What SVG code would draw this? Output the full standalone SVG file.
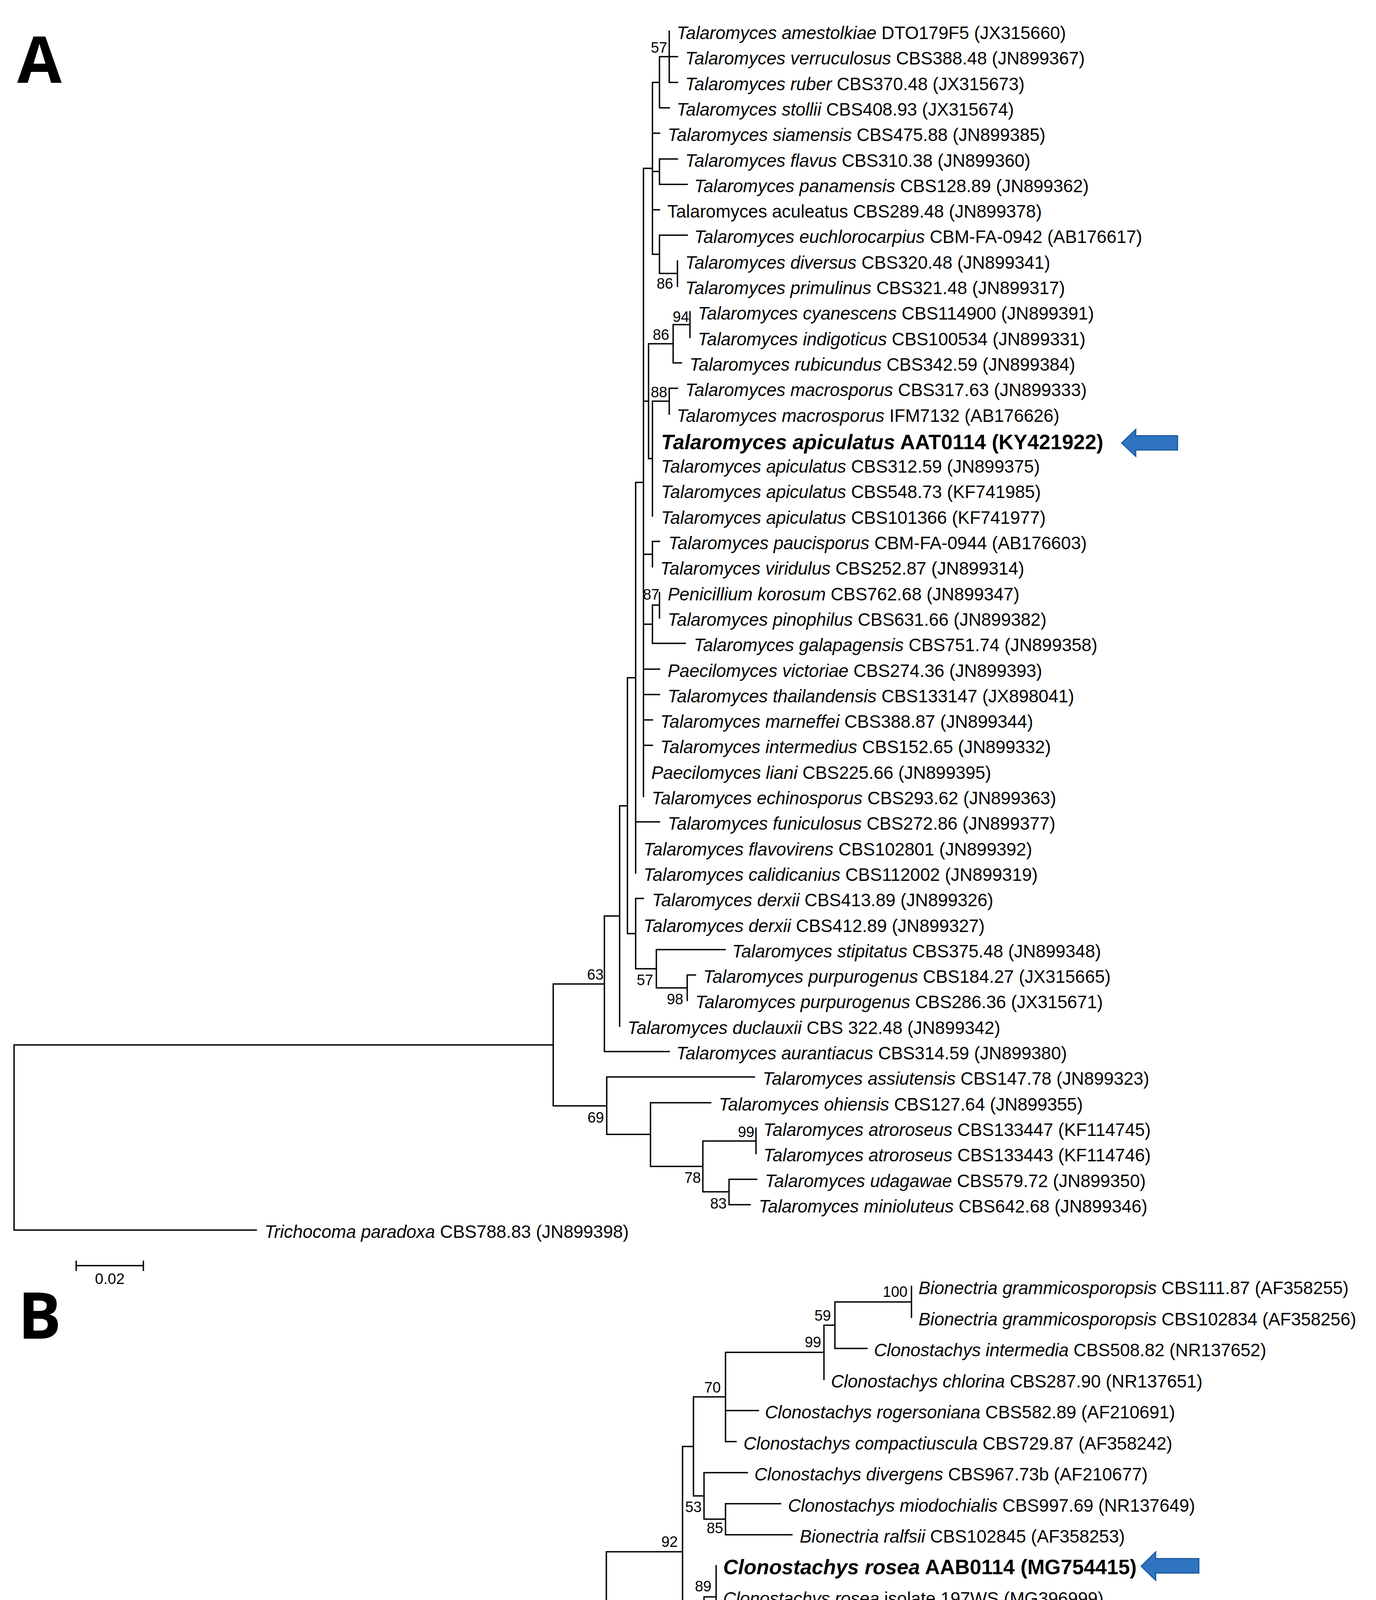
<svg xmlns="http://www.w3.org/2000/svg" width="3522" height="5092" viewBox="0 0 3522 5092">
<style>
.lbl{font-family:"Liberation Sans",Arial,Helvetica,sans-serif;font-size:45.5px;fill:#000}
.it{font-style:italic}
.bold{font-weight:bold;font-size:53px}
.bs{font-family:"Liberation Sans",Arial,Helvetica,sans-serif;font-size:38px;fill:#000;text-anchor:end}
.sc{font-family:"Liberation Sans",Arial,Helvetica,sans-serif;font-size:39px;fill:#000;text-anchor:middle}
.br{fill:none;stroke:#000;stroke-width:3.5;stroke-linecap:square}
.panel{font-family:"Open Sans","Liberation Sans",sans-serif;font-weight:700;font-size:165px;fill:#000}
.arrow{fill:#2e74c0;stroke:#1f5a9e;stroke-width:3;stroke-linejoin:miter}
</style>
<rect width="3522" height="5092" fill="#fff"/>

<g id="panel-labels">
<text class="panel" x="44" y="212">A</text>
<text class="panel" x="46" y="3427">B</text>
</g>

<g id="connectors">
<path id="tree-a" class="br" d="M1713,80V211M1713,145H1734M1713,211H1734
M1688,145V276M1688,145H1713M1688,276H1713
M1670,211V651M1670,211H1688M1670,341H1688M1670,439H1688M1670,537H1688M1670,651H1688
M1688,407V472M1688,407H1734M1688,472H1759
M1688,602V700M1688,602H1759M1688,700H1734
M1734,668V733
M1647,431V2039M1647,431H1670M1647,1027H1660M1647,1419H1670M1647,1598H1670M1647,1713H1688M1647,1778H1688M1647,1843H1670M1647,1908H1670
M1660,880V1174M1660,880H1723M1660,1174H1670
M1723,831V929M1723,831H1766M1723,929H1744
M1766,798V864
M1670,1027V1321M1670,1027H1713
M1713,994V1060M1713,994H1734
M1670,1386V1451M1670,1386H1688
M1670,1549V1647M1670,1549H1688M1670,1647H1754
M1688,1517V1582
M1627,1235V2235M1627,1235H1647M1627,2104H1688
M1606,1735V2390M1606,1735H1627M1606,2390H1627
M1627,2300V2480M1627,2300H1647M1627,2480H1680
M1680,2431V2529M1680,2431H1856M1680,2529H1759
M1759,2496V2561M1759,2496H1780
M1586,2063V2627M1586,2063H1606
M1547,2345V2692M1547,2345H1586M1547,2692H1713
M1416,2519V2831M1416,2519H1547M1416,2831H1553
M1553,2757V2904M1553,2757H1931M1553,2904H1665
M1665,2823V2986M1665,2823H1819M1665,2986H1799
M1799,2921V3051M1799,2921H1935M1799,3051H1866
M1935,2888V2953
M1866,3019V3084M1866,3019H1937M1866,3084H1920
M36,2675V3149M36,2675H1416M36,3149H656"/>
<path id="tree-b" class="br" d="M2333,3293V3372.5
M2137,3333V3452M2137,3333H2333M2137,3452H2219
M2109,3392.5V3531.5M2109,3392.5H2137
M1857,3462V3690.5M1857,3462H2109M1857,3611H1941M1857,3690.5H1884
M1775,3576V3829.5M1775,3576H1857M1775,3829.5H1802
M1802,3770V3889M1802,3770H1913M1802,3889H1857
M1857,3849.5V3929M1857,3849.5H1998M1857,3929H2027
M1747,3703V4242M1747,3703H1775M1747,4242H1802
M1802,4088V4396M1802,4088H1833M1802,4247H1860M1802,4396H1833
M1833,4008.5V4167.5
M1833,4326.5V4465.5M1833,4326.5H1888M1833,4465.5H1860
M1860,4406V4525M1860,4525H1884.5
M1884.5,4485.5V4565M1884.5,4565H1914
M1552,3972.5V4644.5M1552,3972.5H1747M1552,4644.5H2117
M1251,4308.5V4764M1251,4308.5H1552M1251,4764H1718
M1718,4724V4803.5M1718,4724H1806M1718,4803.5H2029
M67,4536V4883M67,4536H1251M67,4883H557"/>
</g>

<g id="scale-a">
<path class="br" d="M195,3240H367M195,3229V3252M367,3229V3252"/>
<text class="sc" x="281" y="3287">0.02</text>
</g>
<g id="scale-b">
<path class="br" d="M239,4994H438M239,4979V5010M438,4979V5010"/>
<text class="sc" x="336" y="5044">0.02</text>
</g>

<g id="bootstrap-a">
<text class="bs" x="1708" y="135">57</text>
<text class="bs" x="1723" y="739">86</text>
<text class="bs" x="1764" y="824">94</text>
<text class="bs" x="1713" y="870">86</text>
<text class="bs" x="1708" y="1017">88</text>
<text class="bs" x="1688" y="1535">87</text>
<text class="bs" x="1672" y="2522">57</text>
<text class="bs" x="1749" y="2571">98</text>
<text class="bs" x="1545" y="2508">63</text>
<text class="bs" x="1546" y="2874">69</text>
<text class="bs" x="1931" y="2911">99</text>
<text class="bs" x="1794" y="3028">78</text>
<text class="bs" x="1860" y="3094">83</text>
</g>
<g id="bootstrap-b">
<text class="bs" x="2323" y="3320">100</text>
<text class="bs" x="2127" y="3381">59</text>
<text class="bs" x="2102" y="3449">99</text>
<text class="bs" x="1845" y="3565">70</text>
<text class="bs" x="1796" y="3871">53</text>
<text class="bs" x="1851" y="3925">85</text>
<text class="bs" x="1735" y="3960">92</text>
<text class="bs" x="1821" y="4074">89</text>
<text class="bs" x="1794" y="4292">76</text>
<text class="bs" x="1853" y="4501">53</text>
<text class="bs" x="1880" y="4555">61</text>
<text class="bs" x="1533" y="4291">91</text>
<text class="bs" x="1711" y="4806">98</text>
</g>

<g id="leaves-a">
<g id="a01"><text class="lbl" x="1732" y="100"><tspan class="it">Talaromyces amestolkiae</tspan> DTO179F5 (JX315660)</text></g>
<g id="a02"><text class="lbl" x="1754" y="165.3"><tspan class="it">Talaromyces verruculosus</tspan> CBS388.48 (JN899367)</text></g>
<g id="a03"><text class="lbl" x="1754" y="230.6"><tspan class="it">Talaromyces ruber</tspan> CBS370.48 (JX315673)</text></g>
<g id="a04"><text class="lbl" x="1732" y="295.9"><tspan class="it">Talaromyces stollii</tspan> CBS408.93 (JX315674)</text></g>
<g id="a05"><text class="lbl" x="1709" y="361.2"><tspan class="it">Talaromyces siamensis</tspan> CBS475.88 (JN899385)</text></g>
<g id="a06"><text class="lbl" x="1754" y="426.5"><tspan class="it">Talaromyces flavus</tspan> CBS310.38 (JN899360)</text></g>
<g id="a07"><text class="lbl" x="1777" y="491.8"><tspan class="it">Talaromyces panamensis</tspan> CBS128.89 (JN899362)</text></g>
<g id="a08"><text class="lbl" x="1708" y="557.1">Talaromyces aculeatus CBS289.48 (JN899378)</text></g>
<g id="a09"><text class="lbl" x="1777" y="622.4"><tspan class="it">Talaromyces euchlorocarpius</tspan> CBM-FA-0942 (AB176617)</text></g>
<g id="a10"><text class="lbl" x="1754" y="687.7"><tspan class="it">Talaromyces diversus</tspan> CBS320.48 (JN899341)</text></g>
<g id="a11"><text class="lbl" x="1754" y="753"><tspan class="it">Talaromyces primulinus</tspan> CBS321.48 (JN899317)</text></g>
<g id="a12"><text class="lbl" x="1786" y="818.3"><tspan class="it">Talaromyces cyanescens</tspan> CBS114900 (JN899391)</text></g>
<g id="a13"><text class="lbl" x="1786" y="883.6"><tspan class="it">Talaromyces indigoticus</tspan> CBS100534 (JN899331)</text></g>
<g id="a14"><text class="lbl" x="1765" y="948.9"><tspan class="it">Talaromyces rubicundus</tspan> CBS342.59 (JN899384)</text></g>
<g id="a15"><text class="lbl" x="1754" y="1014.2"><tspan class="it">Talaromyces macrosporus</tspan> CBS317.63 (JN899333)</text></g>
<g id="a16"><text class="lbl" x="1732" y="1079.5"><tspan class="it">Talaromyces macrosporus</tspan> IFM7132 (AB176626)</text></g>
<g id="a17"><text class="lbl bold" x="1692" y="1150"><tspan class="it">Talaromyces apiculatus</tspan> AAT0114 (KY421922)</text>
<path class="arrow" d="M2871,1134L2907,1099.5V1115.6H3014V1152H2907V1168Z"/></g>
<g id="a18"><text class="lbl" x="1692" y="1210.1"><tspan class="it">Talaromyces apiculatus</tspan> CBS312.59 (JN899375)</text></g>
<g id="a19"><text class="lbl" x="1692" y="1275.4"><tspan class="it">Talaromyces apiculatus</tspan> CBS548.73 (KF741985)</text></g>
<g id="a20"><text class="lbl" x="1692" y="1340.7"><tspan class="it">Talaromyces apiculatus</tspan> CBS101366 (KF741977)</text></g>
<g id="a21"><text class="lbl" x="1711" y="1406"><tspan class="it">Talaromyces paucisporus</tspan> CBM-FA-0944 (AB176603)</text></g>
<g id="a22"><text class="lbl" x="1690" y="1471.3"><tspan class="it">Talaromyces viridulus</tspan> CBS252.87 (JN899314)</text></g>
<g id="a23"><text class="lbl" x="1709" y="1536.6"><tspan class="it">Penicillium korosum</tspan> CBS762.68 (JN899347)</text></g>
<g id="a24"><text class="lbl" x="1709" y="1601.9"><tspan class="it">Talaromyces pinophilus</tspan> CBS631.66 (JN899382)</text></g>
<g id="a25"><text class="lbl" x="1776" y="1667.2"><tspan class="it">Talaromyces galapagensis</tspan> CBS751.74 (JN899358)</text></g>
<g id="a26"><text class="lbl" x="1709" y="1732.5"><tspan class="it">Paecilomyces victoriae</tspan> CBS274.36 (JN899393)</text></g>
<g id="a27"><text class="lbl" x="1709" y="1797.8"><tspan class="it">Talaromyces thailandensis</tspan> CBS133147 (JX898041)</text></g>
<g id="a28"><text class="lbl" x="1690" y="1863.1"><tspan class="it">Talaromyces marneffei</tspan> CBS388.87 (JN899344)</text></g>
<g id="a29"><text class="lbl" x="1690" y="1928.4"><tspan class="it">Talaromyces intermedius</tspan> CBS152.65 (JN899332)</text></g>
<g id="a30"><text class="lbl" x="1667" y="1993.7"><tspan class="it">Paecilomyces liani</tspan> CBS225.66 (JN899395)</text></g>
<g id="a31"><text class="lbl" x="1668" y="2059"><tspan class="it">Talaromyces echinosporus</tspan> CBS293.62 (JN899363)</text></g>
<g id="a32"><text class="lbl" x="1709" y="2124.3"><tspan class="it">Talaromyces funiculosus</tspan> CBS272.86 (JN899377)</text></g>
<g id="a33"><text class="lbl" x="1647" y="2189.6"><tspan class="it">Talaromyces flavovirens</tspan> CBS102801 (JN899392)</text></g>
<g id="a34"><text class="lbl" x="1647" y="2254.9"><tspan class="it">Talaromyces calidicanius</tspan> CBS112002 (JN899319)</text></g>
<g id="a35"><text class="lbl" x="1669" y="2320.2"><tspan class="it">Talaromyces derxii</tspan> CBS413.89 (JN899326)</text></g>
<g id="a36"><text class="lbl" x="1647" y="2385.5"><tspan class="it">Talaromyces derxii</tspan> CBS412.89 (JN899327)</text></g>
<g id="a37"><text class="lbl" x="1874" y="2450.8"><tspan class="it">Talaromyces stipitatus</tspan> CBS375.48 (JN899348)</text></g>
<g id="a38"><text class="lbl" x="1800" y="2516.1"><tspan class="it">Talaromyces purpurogenus</tspan> CBS184.27 (JX315665)</text></g>
<g id="a39"><text class="lbl" x="1780" y="2581.4"><tspan class="it">Talaromyces purpurogenus</tspan> CBS286.36 (JX315671)</text></g>
<g id="a40"><text class="lbl" x="1606" y="2646.7"><tspan class="it">Talaromyces duclauxii</tspan> CBS 322.48 (JN899342)</text></g>
<g id="a41"><text class="lbl" x="1731" y="2712"><tspan class="it">Talaromyces aurantiacus</tspan> CBS314.59 (JN899380)</text></g>
<g id="a42"><text class="lbl" x="1952" y="2777.3"><tspan class="it">Talaromyces assiutensis</tspan> CBS147.78 (JN899323)</text></g>
<g id="a43"><text class="lbl" x="1840" y="2842.6"><tspan class="it">Talaromyces ohiensis</tspan> CBS127.64 (JN899355)</text></g>
<g id="a44"><text class="lbl" x="1954" y="2907.9"><tspan class="it">Talaromyces atroroseus</tspan> CBS133447 (KF114745)</text></g>
<g id="a45"><text class="lbl" x="1954" y="2973.2"><tspan class="it">Talaromyces atroroseus</tspan> CBS133443 (KF114746)</text></g>
<g id="a46"><text class="lbl" x="1958" y="3038.5"><tspan class="it">Talaromyces udagawae</tspan> CBS579.72 (JN899350)</text></g>
<g id="a47"><text class="lbl" x="1942" y="3103.8"><tspan class="it">Talaromyces minioluteus</tspan> CBS642.68 (JN899346)</text></g>
<g id="a48"><text class="lbl" x="677" y="3169.1"><tspan class="it">Trichocoma paradoxa</tspan> CBS788.83 (JN899398)</text></g>
</g>

<g id="leaves-b">
<g id="b01"><text class="lbl" x="2351" y="3313"><tspan class="it">Bionectria grammicosporopsis</tspan> CBS111.87 (AF358255)</text></g>
<g id="b02"><text class="lbl" x="2351" y="3392.5"><tspan class="it">Bionectria grammicosporopsis</tspan> CBS102834 (AF358256)</text></g>
<g id="b03"><text class="lbl" x="2237" y="3472"><tspan class="it">Clonostachys intermedia</tspan> CBS508.82 (NR137652)</text></g>
<g id="b04"><text class="lbl" x="2127" y="3551.5"><tspan class="it">Clonostachys chlorina</tspan> CBS287.90 (NR137651)</text></g>
<g id="b05"><text class="lbl" x="1958" y="3631"><tspan class="it">Clonostachys rogersoniana</tspan> CBS582.89 (AF210691)</text></g>
<g id="b06"><text class="lbl" x="1903" y="3710.5"><tspan class="it">Clonostachys compactiuscula</tspan> CBS729.87 (AF358242)</text></g>
<g id="b07"><text class="lbl" x="1931" y="3790"><tspan class="it">Clonostachys divergens</tspan> CBS967.73b (AF210677)</text></g>
<g id="b08"><text class="lbl" x="2017" y="3869.5"><tspan class="it">Clonostachys miodochialis</tspan> CBS997.69 (NR137649)</text></g>
<g id="b09"><text class="lbl" x="2047" y="3949"><tspan class="it">Bionectria ralfsii</tspan> CBS102845 (AF358253)</text></g>
<g id="b10"><text class="lbl bold" x="1851" y="4030"><tspan class="it">Clonostachys rosea</tspan> AAB0114 (MG754415)</text>
<path class="arrow" d="M2921,4009.5L2958,3973V3990H3068.5V4027H2958V4045.5Z"/></g>
<g id="b11"><text class="lbl" x="1851" y="4108"><tspan class="it">Clonostachys rosea</tspan> isolate 197WS (MG396999)</text></g>
<g id="b12"><text class="lbl" x="1851" y="4187.5"><tspan class="it">Clonostachys rosea</tspan> strain NF5 (KJ588220)</text></g>
<g id="b13"><text class="lbl" x="1879" y="4267"><tspan class="it">Bionectria pseudostriata</tspan> CBS119.87 (AF358251)</text></g>
<g id="b14"><text class="lbl" x="1906" y="4346.5"><tspan class="it">Clonostachys byssicola</tspan> RCFS6 (KX259108)</text></g>
<g id="b15"><text class="lbl" x="1879" y="4426"><tspan class="it">Bionectria byssicola</tspan> CBS914.97 (AF358252)</text></g>
<g id="b16"><text class="lbl" x="1903" y="4505.5"><tspan class="it">Clonostachys solani</tspan> CBS228.74 (AF358243)</text></g>
<g id="b17"><text class="lbl" x="1934" y="4585"><tspan class="it">Clonostachys rhizophaga</tspan> CBS361.77 (AF358228)</text></g>
<g id="b18"><text class="lbl" x="2137" y="4664.5"><tspan class="it">Clonostachys candelabrum</tspan> CBS504.67 (AF210668)</text></g>
<g id="b19"><text class="lbl" x="1830" y="4744"><tspan class="it">Hydropisphaera erubescens</tspan> 5141/HMAS91779 (FJ969800)</text></g>
<g id="b20"><text class="lbl" x="2052" y="4823.5"><tspan class="it">Hydropisphaera erubescens</tspan> (KF813068)</text></g>
<g id="b21"><text class="lbl" x="580" y="4903"><tspan class="it">Isaria japonica</tspan> BCC2821 (EU828662)</text></g>
</g>
</svg>
